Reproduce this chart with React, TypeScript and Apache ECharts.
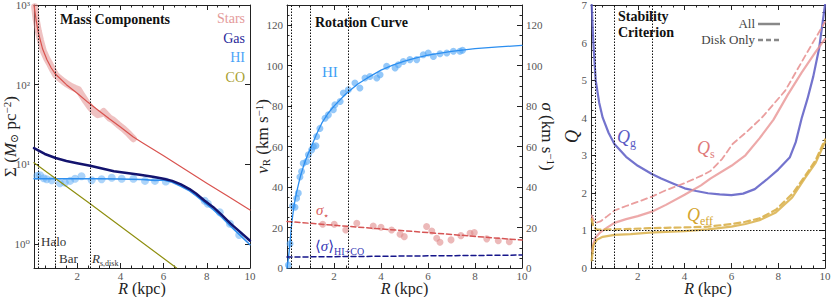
import React, { useEffect, useRef } from "react";
import * as echarts from "echarts";

const FONT = "'Liberation Serif', 'DejaVu Serif', serif";

// ---------- shared ----------
const xTickValues = [2, 4, 6, 8, 10];
const logTickLabels = ["10⁰", "10¹", "10²", "10³"];
const markerRadii = [0.2, 1.0, 2.6];

// ---------- Panel 1: Mass Components (R kpc, Sigma Msun/pc^2) ----------
const starsProfile: [number, number][] = [
  [0.03, 950], [0.1, 660], [0.2, 470], [0.3, 360], [0.43, 265], [0.6, 210], [0.74, 180],
  [0.9, 148], [1.0, 133], [1.15, 122], [1.36, 110], [1.55, 101], [1.74, 94], [1.9, 90],
  [2.05, 87], [2.2, 75], [2.4, 62], [2.6, 52], [2.8, 45], [2.95, 42], [3.1, 43], [3.22, 46],
  [3.35, 42], [3.5, 38], [3.66, 36], [3.9, 31.5], [4.14, 28], [4.4, 24], [4.6, 21],
];
const starsFit: [number, number][] = [
  [0, 1000], [0.1, 640], [0.2, 450], [0.4, 280], [0.6, 205], [0.8, 162], [1.0, 135],
  [1.5, 100], [2.0, 78], [2.5, 60], [3.0, 47], [3.5, 37], [4.0, 29.5], [4.6, 22], [5, 18.8],
  [6, 12.8], [7, 8.6], [8, 5.8], [9, 3.95], [10, 2.67],
];
const gasTotal: [number, number][] = [
  [0, 16], [0.5, 13.5], [1.0, 12.0], [1.5, 11.0], [2.0, 10.3], [2.6, 9.6], [3.2, 8.8],
  [3.7, 8.2], [4.3, 7.8], [4.9, 7.4], [5.5, 7.0], [6.0, 6.6], [6.4, 6.2], [6.8, 5.6],
  [7.2, 4.9], [7.5, 4.3], [7.9, 3.5], [8.3, 2.9], [8.7, 2.3], [9.1, 1.8], [9.5, 1.45], [10, 1.1],
];
const hiFit: [number, number][] = [
  [0, 6.6], [1, 6.6], [2, 6.6], [3, 6.6], [4, 6.55], [5, 6.45], [5.6, 6.3], [6.0, 6.35],
  [6.4, 5.95], [6.8, 5.3], [7.2, 4.65], [7.5, 4.05], [7.9, 3.3], [8.3, 2.7], [8.7, 2.15],
  [9.1, 1.68], [9.5, 1.32], [10, 0.98],
];
const hiPoints: [number, number][] = [
  [0.15, 7.2], [0.28, 7.3], [0.45, 6.7], [0.59, 6.5], [0.82, 6.3], [1.2, 5.8], [1.43, 5.9],
  [1.67, 6.2], [1.9, 6.6], [2.2, 7.1], [2.67, 6.3], [3.13, 6.5], [3.6, 6.8], [4.06, 6.6],
  [4.6, 6.6], [5.14, 6.2], [5.6, 6.2], [6.1, 6.1], [7.9, 3.5], [8.05, 3.2], [8.6, 2.5],
  [9.07, 1.8], [9.5, 1.3],
];
const coFit: [number, number][] = [[0, 10.5], [2.6, 3.2], [6.6, 0.5]];

// ---------- Panel 2: Rotation Curve (R kpc, v km/s) ----------
const rcPoints: [number, number][] = [
  [0.06, 1.5], [0.13, 12], [0.24, 30.6], [0.34, 30], [0.41, 34.5], [0.48, 37], [0.55, 45],
  [0.62, 47.7], [0.69, 51.8], [0.84, 52.6], [0.91, 56], [1.05, 58.4], [1.12, 60], [1.23, 60.4],
  [1.26, 65], [1.4, 69], [1.62, 74], [1.76, 75.7], [1.97, 78.2], [2.04, 80.7], [2.26, 82.3],
  [2.4, 86.5], [2.61, 88.1], [2.89, 91.4], [3.1, 89], [3.32, 93.9], [3.53, 94.7], [3.82, 93.9],
  [3.96, 95.5], [4.24, 99.7], [4.6, 98.9], [4.74, 100.5], [4.95, 102.1], [5.23, 103],
  [5.52, 103], [5.8, 105.4], [6.01, 106.3], [6.23, 104.6], [6.51, 105.9], [6.8, 106.3],
  [7.08, 107.1], [7.36, 107.1], [7.47, 107.6],
];
const rcFit: [number, number][] = [
  [0, 0], [0.05, 4], [0.1, 9], [0.2, 22], [0.3, 31], [0.4, 37], [0.5, 42], [0.6, 46.5],
  [0.75, 52], [0.9, 56.5], [1.0, 59], [1.25, 66], [1.5, 72], [1.75, 76.5], [2.0, 80],
  [2.5, 86], [3.0, 90.8], [3.5, 94.5], [4.0, 97.8], [4.5, 100.3], [5.0, 102.3], [5.5, 103.9],
  [6.0, 105.2], [7.0, 107.1], [8.0, 108.4], [9.0, 109.3], [10, 110],
];
const sigmaStarPoints: [number, number][] = [
  [1.52, 21.6], [2.01, 21.6], [2.5, 18.8], [2.97, 22.1], [3.67, 20.8], [4.0, 20.1],
  [4.45, 18.8], [4.81, 16.7], [4.99, 15.5], [5.94, 20.5], [6.16, 18.3], [6.37, 14.7],
  [6.51, 12.7], [6.98, 13.9], [7.4, 16], [7.79, 17.2], [7.97, 17.5], [8.5, 14.4],
  [8.99, 13.5], [9.46, 13],
];
const sigmaStarFit: [number, number][] = [[0, 23], [10, 13.8]];
const sigmaGasFit: [number, number][] = [[0, 5.4], [10, 6.4]];

// ---------- Panel 3: Stability Criterion (R kpc, Q) ----------
const qGas: [number, number][] = [
  [0.03, 7.0], [0.1, 6.0], [0.2, 5.0], [0.35, 4.4], [0.5, 4.0], [0.75, 3.6], [1.0, 3.3],
  [1.5, 2.96], [2.0, 2.72], [2.6, 2.5], [3.0, 2.38], [3.5, 2.25], [4.0, 2.12], [4.5, 2.05],
  [5.0, 1.99], [5.5, 1.96], [6.0, 1.94], [6.5, 1.98], [7.0, 2.1], [7.5, 2.35], [8.0, 2.62],
  [8.5, 2.95], [8.75, 3.35], [9.0, 3.98], [9.25, 4.5], [9.5, 5.1], [9.75, 5.85], [10, 7.0],
];
const qStarsAll: [number, number][] = [
  [0.05, 0.45], [0.1, 0.65], [0.2, 0.82], [0.4, 0.95], [0.7, 1.08], [1.0, 1.2], [1.5, 1.3],
  [2.0, 1.38], [2.6, 1.5], [3.2, 1.68], [4.0, 1.95], [4.7, 2.2], [5.1, 2.38], [6.0, 2.72],
  [6.6, 3.0], [7.2, 3.45], [7.8, 3.95], [8.4, 4.6], [9.0, 5.2], [9.6, 5.75], [10, 6.1],
];
const qStarsDisk: [number, number][] = [
  [0.03, 1.4], [0.1, 1.28], [0.2, 1.2], [0.4, 1.24], [0.7, 1.38], [1.0, 1.53], [1.5, 1.65],
  [2.0, 1.76], [2.6, 1.9], [3.2, 2.07], [4.0, 2.26], [4.7, 2.45], [5.1, 2.58], [5.6, 2.9],
  [6.05, 3.3], [6.7, 3.65], [7.3, 4.0], [8.3, 4.72], [9.25, 5.75], [10, 6.55],
];
const qEffAll: [number, number][] = [
  [0.03, 0.2], [0.1, 0.6], [0.25, 0.75], [0.5, 0.83], [1.0, 0.88], [1.7, 0.9], [2.5, 0.94],
  [3.2, 0.96], [4.0, 0.98], [5.0, 1.03], [6.0, 1.1], [6.6, 1.17], [7.2, 1.27], [7.9, 1.48],
  [8.6, 1.88], [9.15, 2.4], [9.6, 2.8], [10, 3.35],
];
const qEffDisk: [number, number][] = [
  [0.03, 1.3], [0.1, 1.1], [0.25, 1.02], [0.5, 1.02], [1.0, 1.03], [1.7, 1.04], [2.5, 1.06],
  [3.2, 1.07], [4.0, 1.08], [5.0, 1.1], [6.0, 1.17], [6.6, 1.23], [7.2, 1.32], [7.9, 1.55],
  [8.6, 1.97], [9.15, 2.45], [9.6, 2.87], [10, 3.42],
];
const qThreshold = 1;

// ---------- helpers ----------
const AX = "#222";
const TICKLBL = "#555";

function rich(size: number, color: string, lh = size + 6) {
  const s = Math.round(size * 0.65);
  const base = { fontFamily: FONT, color, fill: color };
  return {
    t: { ...base, fontSize: size, lineHeight: lh, verticalAlign: "middle" },
    i: { ...base, fontSize: size, fontStyle: "italic", lineHeight: lh, verticalAlign: "middle" },
    b: { ...base, fontSize: size, fontWeight: "bold", lineHeight: lh, verticalAlign: "middle" },
    sub: { ...base, fontSize: s, lineHeight: s, verticalAlign: "bottom" },
    sup: { ...base, fontSize: s, lineHeight: s, verticalAlign: "top" },
  };
}

function makeX(gridIndex: number, position: "top" | "bottom") {
  const bottom = position === "bottom";
  return {
    type: "value",
    gridIndex,
    position,
    min: 0,
    max: 10,
    interval: 2,
    axisLine: { show: true, onZero: false, lineStyle: { color: AX, width: 1 } },
    axisTick: { show: true, inside: true, length: 5, lineStyle: { color: AX } },
    minorTick: { show: true, splitNumber: 4, length: 2.5, lineStyle: { color: AX } },
    splitLine: { show: false },
    axisLabel: {
      show: bottom,
      color: TICKLBL,
      fontFamily: FONT,
      fontSize: 11,
      margin: 2,
      formatter: (v: number) => (xTickValues.includes(v) ? String(v) : ""),
    },
    name: bottom ? "{i|R}{t| (kpc)}" : "",
    nameLocation: "middle",
    nameGap: 13,
    nameMoveOverlap: false,
    nameTextStyle: { rich: rich(16, "#222", 15) },
  };
}

function logLabel(v: number) {
  const e = Math.log10(v);
  const r = Math.round(e);
  return Math.abs(e - r) < 0.01 && r >= 0 && r <= 3 ? logTickLabels[r] : "";
}

function yCommon(gridIndex: number, position: "left" | "right", showLabel: boolean) {
  return {
    gridIndex,
    position,
    nameMoveOverlap: false,
    axisLine: { show: true, onZero: false, lineStyle: { color: AX, width: 1 } },
    axisTick: { show: true, inside: true, length: 5, lineStyle: { color: AX } },
    splitLine: { show: false },
    axisLabel: { show: showLabel, color: TICKLBL, fontFamily: FONT, fontSize: 11, margin: 4 },
  };
}

const vLineMark = (extra: any[] = []) => ({
  silent: true,
  symbol: "none",
  label: { show: false },
  lineStyle: { color: "#111", type: [1.5, 1.5], width: 1 },
  emphasis: { disabled: true },
  data: [...markerRadii.map((r) => ({ xAxis: r })), ...extra],
});

function line(name: string, data: [number, number][], xi: number, yi: number, color: string, width: number, opts: any = {}) {
  return {
    name,
    type: "line",
    xAxisIndex: xi,
    yAxisIndex: yi,
    data,
    symbol: "none",
    silent: true,
    lineStyle: { color, width, opacity: opts.opacity ?? 1, type: opts.type ?? "solid", cap: "round", join: "round" },
    z: opts.z ?? 3,
    ...(opts.markLine ? { markLine: opts.markLine } : {}),
  };
}

function scatter(name: string, data: [number, number][], xi: number, yi: number, color: string, size: number, opacity: number) {
  return {
    name,
    type: "scatter",
    xAxisIndex: xi,
    yAxisIndex: yi,
    data,
    symbolSize: size,
    silent: true,
    itemStyle: { color, opacity },
    z: 2,
  };
}

function gtext(x: number, y: number, text: string, size: number, color: string, align = "left", weight = "normal") {
  return {
    type: "text",
    x,
    y,
    silent: true,
    z: 100,
    style: {
      text,
      fill: color,
      fontFamily: FONT,
      fontSize: size,
      fontWeight: weight,
      align,
      textAlign: align,
      verticalAlign: "middle",
      textVerticalAlign: "middle",
      rich: rich(size, color),
    },
  };
}

const gridBase = { containLabel: false, outerBoundsMode: "none" };

export default function App() {
  const ref = useRef<HTMLDivElement>(null);
  useEffect(() => {
    document.body.style.margin = "0";
    const chart = echarts.init(ref.current!, null, { renderer: "svg" });
    const option: any = {
      animation: false,
      backgroundColor: "#fff",
      grid: [
        { ...gridBase, left: 34, top: 5, width: 216, height: 263 },
        { ...gridBase, left: 287, top: 5, width: 235, height: 263 },
        { ...gridBase, left: 591, top: 5, width: 234, height: 263 },
      ],
      xAxis: [makeX(0, "bottom"), makeX(0, "top"), makeX(1, "bottom"), makeX(1, "top"), makeX(2, "bottom"), makeX(2, "top")],
      yAxis: [
        {
          ...yCommon(0, "left", true),
          type: "log",
          logBase: 10,
          min: 0.5,
          max: 1000,
          axisLabel: { ...yCommon(0, "left", true).axisLabel, formatter: logLabel },
          name: "{t|Σ (}{i|M}{sub|⊙}{t| pc}{sup|−2}{t|)}",
          nameLocation: "middle",
          nameRotate: 90,
          nameGap: 15,
          nameTextStyle: { rich: rich(17, "#222", 18) },
        },
        { ...yCommon(0, "right", false), type: "log", logBase: 10, min: 0.5, max: 1000 },
        {
          ...yCommon(1, "left", true),
          type: "value",
          min: 0,
          max: 130,
          interval: 20,
          minorTick: { show: true, splitNumber: 4, length: 2.5, lineStyle: { color: AX } },
          axisLabel: { ...yCommon(1, "left", true).axisLabel, formatter: (v: number) => (v <= 120 ? String(v) : "") },
          name: "{i|v}{sub|R}{t| (km s}{sup|−1}{t|)}",
          nameLocation: "middle",
          nameRotate: 90,
          nameGap: 16,
          nameTextStyle: { rich: rich(17, "#222", 18) },
        },
        {
          ...yCommon(1, "right", true),
          type: "value",
          min: 0,
          max: 130,
          interval: 20,
          minorTick: { show: true, splitNumber: 4, length: 2.5, lineStyle: { color: AX } },
          axisLabel: { ...yCommon(1, "right", true).axisLabel, formatter: (v: number) => (v <= 120 ? String(v) : "") },
          name: "{i|σ}{t| (km s}{sup|−1}{t|)}",
          nameLocation: "middle",
          nameRotate: -90,
          nameGap: 16,
          nameTextStyle: { rich: rich(17, "#222", 18) },
        },
        {
          ...yCommon(2, "left", true),
          type: "value",
          min: 0,
          max: 7,
          interval: 1,
          minorTick: { show: true, splitNumber: 5, length: 2.5, lineStyle: { color: AX } },
          name: "{i|Q}",
          nameLocation: "middle",
          nameRotate: 90,
          nameGap: 10,
          nameTextStyle: { rich: rich(18, "#222", 19) },
        },
        {
          ...yCommon(2, "right", false),
          type: "value",
          min: 0,
          max: 7,
          interval: 1,
          minorTick: { show: true, splitNumber: 5, length: 2.5, lineStyle: { color: AX } },
        },
      ],
      series: [
        // Panel 1
        line("StarsProfile", starsProfile, 0, 0, "#e08686", 7, { opacity: 0.5, z: 2 }),
        line("StarsFit", starsFit, 0, 0, "#d9534f", 1.2, { z: 4 }),
        scatter("HIpts", hiPoints, 0, 0, "#5aaaf5", 8, 0.5),
        line("HI", hiFit, 0, 0, "#2f8fef", 1.6, { z: 4 }),
        line("Gas", gasTotal, 0, 0, "#13136e", 2.5, { z: 5 }),
        line("CO", coFit, 0, 0, "#8f8f10", 1.2, { z: 4, markLine: vLineMark() }),
        // Panel 2
        scatter("RCpts", rcPoints, 2, 2, "#4da3f5", 7, 0.6),
        line("RC", rcFit, 2, 2, "#2b8ef0", 1.3, { z: 4 }),
        scatter("SigStarPts", sigmaStarPoints, 2, 3, "#e08a8a", 7, 0.6),
        line("SigStar", sigmaStarFit, 2, 3, "#d65454", 1.5, { type: [5, 3], z: 4 }),
        line("SigGas", sigmaGasFit, 2, 3, "#15158a", 1.5, { type: [5, 3], z: 4, markLine: vLineMark() }),
        // Panel 3
        line("Qg", qGas, 4, 4, "#5b5bc4", 2.2, { opacity: 0.85, z: 3 }),
        line("QsAll", qStarsAll, 4, 4, "#e89494", 2.2, { opacity: 0.8, z: 3 }),
        line("QsDisk", qStarsDisk, 4, 4, "#e89494", 1.8, { opacity: 0.9, type: [6, 4], z: 3 }),
        line("QeffAll", qEffAll, 4, 4, "#d9b04a", 2.2, { opacity: 0.85, z: 3 }),
        line("QeffDisk", qEffDisk, 4, 4, "#d9b04a", 2.2, {
          opacity: 0.9,
          type: [6, 4],
          z: 4,
          markLine: vLineMark([{ yAxis: qThreshold }]),
        }),
      ],
      graphic: [
        // Panel 1
        gtext(60, 19, "{b|Mass Components}", 14, "#111"),
        gtext(245, 18, "Stars", 14, "#e49a9a", "right"),
        gtext(245, 38, "Gas", 14, "#2a2a9a", "right"),
        gtext(245, 57, "HI", 14, "#4aa3f7", "right"),
        gtext(245, 77, "CO", 14, "#a8a030", "right"),
        gtext(41, 241, "Halo", 13, "#333"),
        gtext(59, 258, "Bar", 13, "#333"),
        gtext(92, 258, "{i|R}{sub|s,disk}", 13, "#333"),
        // Panel 2
        gtext(315, 22, "{b|Rotation Curve}", 14, "#111"),
        gtext(322, 72, "HI", 15, "#3f9ff5"),
        gtext(316, 210, "{i|σ}{sub|⋆}", 15, "#d86060"),
        gtext(315, 246, "{t|⟨}{i|σ}{t|⟩}{sub|HI+CO}", 15, "#3535b5"),
        // Panel 3
        gtext(618, 16, "{b|Stability}", 14, "#111"),
        gtext(618, 32, "{b|Criterion}", 14, "#111"),
        gtext(755, 23, "All", 13, "#444", "right"),
        gtext(755, 39, "Disk Only", 13, "#444", "right"),
        {
          type: "line",
          silent: true,
          shape: { x1: 758, y1: 24, x2: 780, y2: 24 },
          style: { stroke: "#888", lineWidth: 2.5 },
        },
        {
          type: "line",
          silent: true,
          shape: { x1: 758, y1: 40, x2: 780, y2: 40 },
          style: { stroke: "#888", lineWidth: 2.5, lineDash: [5, 3] },
        },
        gtext(617, 137, "{i|Q}{sub|g}", 18, "#5b5bc4"),
        gtext(697, 148, "{i|Q}{sub|s}", 18, "#e07a7a"),
        gtext(687, 215, "{i|Q}{sub|eff}", 18, "#d4a52e"),
      ],
    };
    chart.setOption(option);
    return () => chart.dispose();
  }, []);
  return <div ref={ref} style={{ width: 831, height: 297 }} />;
}
